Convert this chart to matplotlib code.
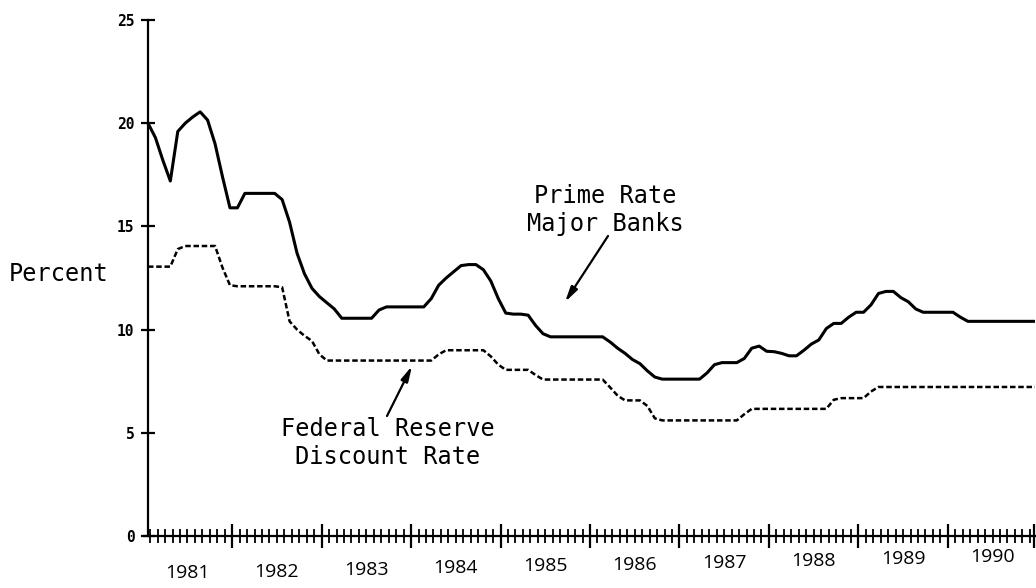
import numpy as np
import matplotlib
matplotlib.use("Agg")
import matplotlib.pyplot as plt
from matplotlib.transforms import blended_transform_factory

# ---- data (monthly, Jan 1981 .. Dec 1990) ----
prime_rate = [
    20.0, 19.3, 18.2, 17.2, 19.6, 20.0, 20.3, 20.55, 20.15, 19.0, 17.4, 15.9,
    15.9, 16.6, 16.6, 16.6, 16.6, 16.6, 16.3, 15.2, 13.7, 12.7, 12.0, 11.6,
    11.3, 11.0, 10.55, 10.55, 10.55, 10.55, 10.55, 10.95, 11.1, 11.1, 11.1, 11.1,
    11.1, 11.1, 11.5, 12.15, 12.5, 12.8, 13.1, 13.15, 13.15, 12.9, 12.35, 11.5,
    10.8, 10.75, 10.75, 10.7, 10.2, 9.8, 9.65, 9.65, 9.65, 9.65, 9.65, 9.65,
    9.65, 9.65, 9.4, 9.1, 8.85, 8.55, 8.35, 8.0, 7.7, 7.6, 7.6, 7.6,
    7.6, 7.6, 7.6, 7.9, 8.3, 8.4, 8.4, 8.4, 8.6, 9.1, 9.2, 8.95,
    8.93, 8.85, 8.73, 8.73, 9.0, 9.3, 9.5, 10.05, 10.3, 10.3, 10.6, 10.84,
    10.84, 11.2, 11.75, 11.85, 11.85, 11.55, 11.35, 11.0, 10.84, 10.84, 10.84, 10.84,
    10.84, 10.6, 10.4, 10.4, 10.4, 10.4, 10.4, 10.4, 10.4, 10.4, 10.4, 10.4,
]
discount_rate = [
    13.05, 13.05, 13.05, 13.05, 13.9, 14.05, 14.05, 14.05, 14.05, 14.05, 13.0, 12.15,
    12.1, 12.1, 12.1, 12.1, 12.1, 12.1, 12.05, 10.4, 10.0, 9.7, 9.45, 8.8,
    8.5, 8.5, 8.5, 8.5, 8.5, 8.5, 8.5, 8.5, 8.5, 8.5, 8.5, 8.5,
    8.5, 8.5, 8.5, 8.8, 9.0, 9.0, 9.0, 9.0, 9.0, 9.0, 8.7, 8.3,
    8.05, 8.05, 8.05, 8.05, 7.8, 7.58, 7.58, 7.58, 7.58, 7.58, 7.58, 7.58,
    7.58, 7.58, 7.2, 6.8, 6.57, 6.57, 6.57, 6.3, 5.7, 5.6, 5.6, 5.6,
    5.6, 5.6, 5.6, 5.6, 5.6, 5.6, 5.6, 5.6, 5.9, 6.16, 6.16, 6.16,
    6.16, 6.16, 6.16, 6.16, 6.16, 6.16, 6.16, 6.16, 6.6, 6.68, 6.68, 6.68,
    6.68, 7.0, 7.22, 7.22, 7.22, 7.22, 7.22, 7.22, 7.22, 7.22, 7.22, 7.22,
    7.22, 7.22, 7.22, 7.22, 7.22, 7.22, 7.22, 7.22, 7.22, 7.22, 7.22, 7.22,
]
years = ["1981", "1982", "1983", "1984", "1985", "1986", "1987", "1988", "1989", "1990"]
y_ticks = [0, 5, 10, 15, 20, 25]

months = np.arange(len(prime_rate))

W, H = 1036, 588
fig = plt.figure(figsize=(W / 100, H / 100), dpi=100)
fig.patch.set_facecolor("white")

left_px, right_px, top_px, bottom_px = 143.5, 1035, 20, 536
ax = fig.add_axes([left_px / W, (H - bottom_px) / H,
                   (right_px - left_px) / W, (bottom_px - top_px) / H])
ax.set_xlim(-0.6, 119)
ax.set_ylim(0, 25)

ax.plot(months, prime_rate, color="black", lw=2.2, solid_joinstyle="round")
ax.plot(months, discount_rate, color="black", lw=1.8, linestyle=(0, (2.2, 1.1)))

for s in ["top", "right"]:
    ax.spines[s].set_visible(False)
ax.spines["left"].set_position(("data", 0))
ax.spines["left"].set_linewidth(1.6)
ax.spines["bottom"].set_linewidth(1.6)

ax.set_yticks(y_ticks)
ax.set_yticklabels([str(v) for v in y_ticks],
                   fontfamily="DejaVu Sans Mono", fontweight="bold", fontsize=10.5)
ax.tick_params(axis="y", direction="inout", length=9.5, width=1.6, pad=5)

major_x = [11.3 + 12 * k for k in range(9)] + [118.9]
minor_x = [m + 0.3 for m in range(119) if all(abs(m + 0.3 - t) > 0.5 for t in major_x)]
ax.set_xticks(major_x)
ax.set_xticklabels([])
ax.set_xticks(minor_x, minor=True)
ax.tick_params(axis="x", which="major", direction="inout", length=17, width=1.6)
ax.tick_params(axis="x", which="minor", direction="inout", length=10, width=1.3)

# year labels (slightly tilted baseline as in the scan)
trans = blended_transform_factory(ax.transData, fig.transFigure)
for k, yr in enumerate(years):
    xd = 5.3 + 12 * k
    xpx = 148 + xd * 7.454
    ypx = 573.5 - 0.0199 * (xpx - 187)
    ax.text(xd, 1 - ypx / H, yr, transform=trans, ha="center", va="center",
            fontfamily="Open Sans", fontsize=14, color="black", clip_on=False)

mono = dict(fontfamily="DejaVu Sans Mono", fontsize=17, color="black")
fig.text(58.5 / W, 1 - 274 / H, "Percent", ha="center", va="center", **mono)

def px(x, y):
    return (x / W, 1 - y / H)

arrow = dict(arrowstyle="-|>,head_length=0.9,head_width=0.22", color="black", lw=1.6,
             shrinkA=0, shrinkB=0)
fig.text(605 / W, 1 - 210 / H, "Prime Rate\nMajor Banks", ha="center", va="center",
         multialignment="center", **mono)
ax.annotate("", xy=px(565, 302), xycoords="figure fraction",
            xytext=px(608, 236), textcoords="figure fraction", arrowprops=arrow)

fig.text(388 / W, 1 - 443 / H, "Federal Reserve\nDiscount Rate", ha="center", va="center",
         multialignment="center", **mono)
ax.annotate("", xy=px(412, 366), xycoords="figure fraction",
            xytext=px(387, 416), textcoords="figure fraction", arrowprops=arrow)

fig.savefig("out.png", dpi=100, facecolor="white")
